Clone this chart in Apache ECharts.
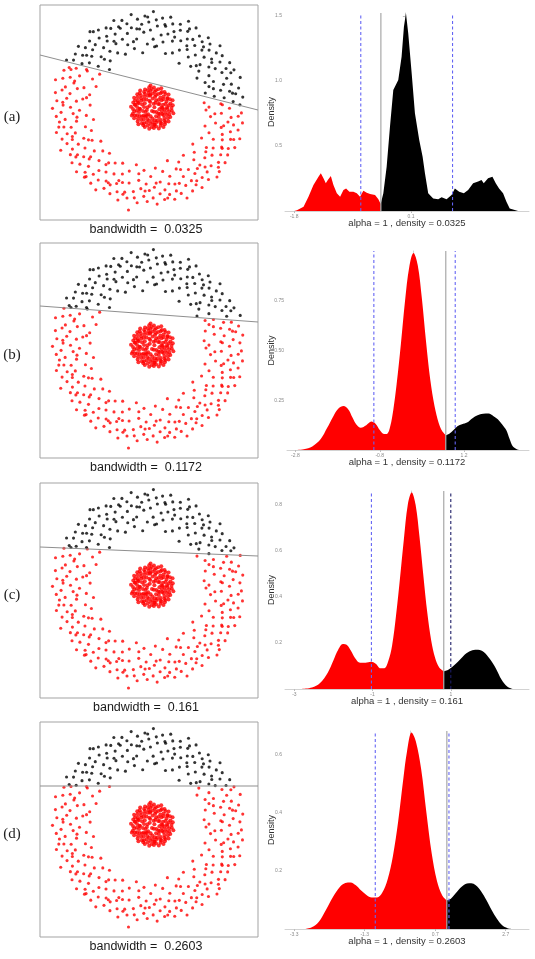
<!DOCTYPE html>
<html><head><meta charset="utf-8">
<script src="https://cdn.jsdelivr.net/npm/echarts@6/dist/echarts.min.js"></script>
<style>html,body{margin:0;padding:0;background:#fff}#c{width:535px;height:959px}</style>
</head><body><div id="c"></div>
<script>
// ---------------- DATA ----------------
const panelLabels = ['(a)', '(b)', '(c)', '(d)'];
const bandwidths = ['0.0325', '0.1172', '0.161', '0.2603'];

// outer ring points [radius, angle(deg)] around ring centre
const ringPts = [
[1.62,0.5],[1.21,1.8],[1.83,2.6],[1.45,4.1],[1.70,5.0],[1.12,6.4],[1.90,7.2],[1.53,8.5],[1.77,9.9],[1.34,11.0],[1.66,12.3],[1.85,13.1],[1.49,14.6],[1.18,15.8],[1.73,16.7],[1.58,18.2],[1.94,19.0],[1.29,20.3],[1.68,21.5],[1.41,22.9],[1.80,23.8],[1.25,25.1],[1.64,26.4],[1.75,27.6],[1.38,28.9],[1.87,29.7],
[1.56,31.2],[1.15,32.5],[1.71,33.3],[1.47,34.8],[1.82,35.9],[1.26,37.0],[1.61,38.4],[1.76,39.6],[1.36,40.7],[1.91,41.5],[1.52,43.0],[1.69,44.2],[1.20,45.3],[1.79,46.6],[1.59,47.8],[1.43,49.1],[1.86,50.0],[1.72,51.4],[1.31,52.6],[1.57,53.9],[1.78,55.1],[1.10,56.2],[1.65,57.5],[1.48,58.8],[1.88,59.6],
[1.60,61.0],[1.33,62.3],[1.74,63.2],[1.51,64.7],[1.93,65.5],[1.22,66.9],[1.70,68.0],[1.81,69.4],[1.44,70.6],[1.63,71.8],[1.16,73.0],[1.77,74.1],[1.55,75.5],[1.89,76.4],[1.37,77.8],[1.72,79.0],[1.50,80.3],[1.84,81.2],[1.27,82.7],[1.67,83.9],[1.79,85.0],[1.40,86.2],[1.95,87.1],[1.58,88.6],[1.74,89.8],
[1.30,91.0],[1.86,92.2],[1.54,93.5],[1.70,94.6],[1.13,95.9],[1.81,97.0],[1.62,98.3],[1.42,99.6],[1.92,100.4],[1.66,101.9],[1.24,103.1],[1.76,104.2],[1.57,105.6],[1.85,106.7],[1.35,107.9],[1.71,109.3],[1.49,110.5],[1.90,111.4],[1.19,112.8],[1.64,114.0],[1.78,115.1],[1.46,116.5],[1.83,117.6],[1.28,118.8],[1.68,119.9],
[1.59,121.3],[1.87,122.4],[1.39,123.7],[1.73,124.8],[1.52,126.2],[1.94,127.1],[1.23,128.5],[1.67,129.6],[1.80,130.9],[1.41,132.2],[1.63,133.3],[1.11,134.7],[1.76,135.8],[1.55,137.1],[1.88,138.2],[1.32,139.6],[1.70,140.8],[1.50,142.0],[1.83,143.1],[1.20,144.5],[1.61,145.7],[1.79,146.9],[1.44,148.2],[1.91,149.1],
[1.66,150.6],[1.27,151.8],[1.74,153.0],[1.53,154.3],[1.86,155.4],[1.14,156.8],[1.69,157.9],[1.58,159.2],[1.82,160.3],[1.36,161.7],[1.95,162.5],[1.48,164.0],[1.72,165.1],[1.21,166.4],[1.77,167.6],[1.60,168.9],[1.89,170.0],[1.33,171.3],[1.65,172.5],[1.45,173.8],[1.84,174.9],[1.17,176.2],[1.71,177.4],[1.56,178.7],[1.92,179.6],
[1.38,181.0],[1.75,182.2],[1.51,183.5],[1.85,184.6],[1.25,185.9],[1.68,187.1],[1.80,188.3],[1.46,189.6],[1.12,190.8],[1.73,192.0],[1.59,193.3],[1.90,194.3],[1.31,195.7],[1.70,196.9],[1.54,198.1],[1.83,199.2],[1.22,200.6],[1.64,201.8],[1.77,203.0],[1.42,204.3],[1.94,205.2],[1.57,206.6],[1.72,207.8],[1.29,209.0],
[1.81,210.3],[1.49,211.5],[1.69,212.8],[1.15,214.0],[1.87,215.1],[1.61,216.4],[1.37,217.7],[1.76,218.8],[1.55,220.1],[1.91,221.1],[1.24,222.5],[1.66,223.7],[1.79,224.9],[1.43,226.2],[1.84,227.3],[1.18,228.6],[1.71,229.8],[1.58,231.1],[1.88,232.1],[1.34,233.5],[1.74,234.7],[1.52,236.0],[1.93,236.9],[1.27,238.3],[1.67,239.5],
[1.82,240.7],[1.47,242.0],[1.70,243.2],[1.20,244.5],[1.86,245.5],[1.62,246.8],[1.40,248.1],[1.77,249.2],[1.56,250.5],[1.92,251.4],[1.30,252.8],[1.73,254.0],[1.53,255.3],[1.83,256.4],[1.14,257.7],[2.06,258.8],[1.68,259.6],[1.80,260.9],[1.44,262.2],[1.89,263.1],[1.60,264.5],[1.23,265.8],[1.75,266.9],[1.50,268.2],[1.85,269.2],
[1.63,270.6],[1.35,271.9],[1.78,273.0],[1.57,274.3],[1.91,275.2],[1.19,276.6],[1.71,277.8],[1.48,279.1],[1.84,280.1],[1.65,281.5],[1.28,282.8],[1.76,283.9],[1.55,285.2],[1.88,286.2],[1.41,287.6],[1.73,288.8],[1.10,290.1],[1.81,291.2],[1.61,292.5],[1.94,293.4],[1.32,294.8],[1.70,296.0],[1.52,297.3],[1.86,298.3],[1.22,299.7],
[1.67,300.9],[1.79,302.1],[1.45,303.4],[1.90,304.3],[1.59,305.7],[1.16,307.0],[1.74,308.1],[1.54,309.4],[1.85,310.4],[1.36,311.8],[1.72,313.0],[1.62,314.3],[1.93,315.2],[1.26,316.6],[1.69,317.8],[1.49,319.1],[1.82,320.2],[1.13,321.6],[1.76,322.7],[1.57,324.0],[1.87,325.0],[1.39,326.4],[1.71,327.6],[1.51,328.9],[1.83,329.9],
[1.21,331.3],[1.65,332.5],[1.78,333.7],[1.43,335.0],[1.89,335.9],[1.60,337.3],[1.30,338.6],[1.75,339.7],[1.56,341.0],[1.92,341.9],[1.18,343.3],[1.70,344.5],[1.50,345.8],[1.84,346.8],[1.37,348.2],[1.73,349.4],[1.61,350.7],[1.90,351.6],[1.25,353.0],[1.66,354.2],[1.80,355.4],[1.46,356.7],[1.86,357.6],[1.15,359.0],
[1.48,3.3],[1.71,10.7],[1.36,17.4],[1.88,24.6],[1.57,36.3],[1.29,42.2],[1.66,48.5],[1.42,57.0],[1.80,62.9],[1.53,70.0],[1.69,78.3],[1.25,84.4],[1.84,90.5],[1.61,96.4],[1.38,102.6],[1.75,110.0],[1.52,117.0],[1.90,125.5],[1.33,131.5],[1.64,139.0],[1.47,147.5],[1.79,152.4],[1.58,160.8],[1.26,169.6],[1.72,175.5],[1.44,186.5],[1.83,191.4],[1.62,199.9],[1.35,207.2],[1.74,213.4],[1.50,219.5],[1.87,226.8],[1.40,232.6],[1.68,241.4],[1.55,247.5],[1.78,253.3],[1.31,261.5],[1.64,267.6],[1.49,275.9],[1.82,282.2],[1.59,289.4],[1.37,297.9],[1.73,303.9],[1.52,312.5],[1.89,318.5],[1.43,323.3],[1.67,331.9],[1.81,340.3],[1.54,347.4],[1.33,355.9]
];

// inner disk points [radius, angle(deg)] around disk centre
const diskPts = [
[0.04,20],[0.09,75],[0.07,140],[0.12,200],[0.06,260],[0.11,315],[0.14,35],[0.13,110],[0.10,170],[0.15,235],[0.08,290],[0.14,350],
[0.18,5],[0.22,17],[0.16,29],[0.24,41],[0.20,53],[0.17,65],[0.23,77],[0.19,89],[0.25,101],[0.16,113],[0.21,125],[0.24,137],[0.18,149],[0.22,161],[0.17,173],[0.25,185],[0.20,197],[0.16,209],[0.23,221],[0.19,233],[0.24,245],[0.17,257],[0.21,269],[0.25,281],[0.18,293],[0.22,305],[0.16,317],[0.23,329],[0.20,341],[0.24,353],
[0.29,3],[0.33,10],[0.27,17],[0.31,25],[0.35,32],[0.28,39],[0.32,46],[0.26,53],[0.34,61],[0.30,68],[0.27,75],[0.33,82],[0.29,89],[0.35,97],[0.31,104],[0.26,111],[0.32,118],[0.28,125],[0.34,133],[0.30,140],[0.27,147],[0.33,154],[0.29,161],[0.35,169],[0.31,176],[0.26,183],[0.32,190],[0.28,197],[0.34,205],[0.30,212],[0.27,219],[0.33,226],[0.29,233],[0.35,241],[0.31,248],[0.26,255],[0.32,262],[0.28,269],[0.34,277],[0.30,284],[0.27,291],[0.33,298],[0.29,305],[0.35,313],[0.31,320],[0.26,327],[0.32,334],[0.28,341],[0.34,349],[0.30,356],
[0.38,1],[0.41,8],[0.37,14],[0.43,21],[0.39,27],[0.36,34],[0.42,40],[0.38,47],[0.40,53],[0.37,60],[0.43,66],[0.39,73],[0.36,79],[0.41,86],[0.38,92],[0.42,99],[0.37,105],[0.40,112],[0.36,118],[0.43,125],[0.39,131],[0.41,138],[0.37,144],[0.42,151],[0.38,157],[0.40,164],[0.36,170],[0.43,177],[0.39,183],[0.37,190],[0.41,196],[0.38,203],[0.42,209],[0.36,216],[0.40,222],[0.43,229],[0.37,235],[0.39,242],[0.41,248],[0.36,255],[0.42,261],[0.38,268],[0.40,274],[0.37,281],[0.43,287],[0.39,294],[0.36,300],[0.41,307],[0.38,313],[0.42,320],[0.37,326],[0.40,333],[0.36,339],[0.43,346],[0.39,352],
[0.12,60],[0.20,0],[0.27,100],[0.31,160],[0.22,230],[0.33,275],[0.19,320],[0.44,200],[0.45,95],[0.44,300]
];

// separating line in each scatter panel (endpoints, ring-centred units)
const splitLines = [
  [[-2.17, 1.08], [2.19, -0.02]],
  [[-2.17, 0.82], [2.19, 0.50]],
  [[-2.17, 0.80], [2.19, 0.62]],
  [[-2.17, 0.80], [2.19, 0.80]]
];

// density curves: red part (left of cut) and black part (right of cut)
const densRedA = [[-1.80,0],[-1.756,0.006],[-1.648,0.033],[-1.568,0.11],[-1.487,0.2],[-1.405,0.264],[-1.367,0.29],[-1.324,0.251],[-1.286,0.213],[-1.253,0.238],[-1.204,0.269],[-1.162,0.2],[-1.107,0.136],[-1.053,0.11],[-0.999,0.162],[-0.956,0.174],[-0.902,0.149],[-0.837,0.149],[-0.782,0.136],[-0.729,0.11],[-0.675,0.156],[-0.62,0.141],[-0.566,0.131],[-0.485,0.123],[-0.431,0.09],[-0.393,0.054]];
const densBlackA = [[-0.393,0.054],[-0.35,0.136],[-0.296,0.341],[-0.242,0.649],[-0.188,0.931],[-0.107,1.008],[-0.053,1.187],[-0.015,1.418],[0.018,1.521],[0.055,1.367],[0.111,1.059],[0.164,0.751],[0.234,0.546],[0.289,0.418],[0.327,0.29],[0.38,0.136],[0.461,0.097],[0.543,0.09],[0.598,0.105],[0.679,0.09],[0.76,0.123],[0.814,0.174],[0.884,0.149],[0.96,0.136],[1.03,0.162],[1.111,0.213],[1.192,0.226],[1.247,0.238],[1.284,0.213],[1.354,0.251],[1.425,0.264],[1.479,0.213],[1.533,0.174],[1.598,0.136],[1.653,0.072],[1.706,0.02],[1.788,0.008],[1.842,0]];

const densRedB = [[-2.85,0],[-2.6,0.004],[-2.4,0.018],[-2.2,0.055],[-2.05,0.11],[-1.9,0.17],[-1.78,0.208],[-1.66,0.221],[-1.55,0.205],[-1.45,0.165],[-1.35,0.127],[-1.25,0.112],[-1.12,0.125],[-1.0,0.143],[-0.9,0.132],[-0.8,0.1],[-0.7,0.08],[-0.62,0.082],[-0.55,0.12],[-0.48,0.2],[-0.4,0.33],[-0.3,0.53],[-0.2,0.75],[-0.1,0.92],[0.0,0.99],[0.1,0.93],[0.2,0.76],[0.3,0.54],[0.4,0.35],[0.5,0.22],[0.6,0.135],[0.68,0.095],[0.766,0.074]];
const densBlackB = [[0.766,0.074],[0.85,0.082],[0.95,0.1],[1.05,0.12],[1.15,0.13],[1.27,0.138],[1.4,0.16],[1.52,0.175],[1.65,0.182],[1.78,0.183],[1.9,0.17],[2.0,0.155],[2.1,0.13],[2.2,0.1],[2.28,0.055],[2.35,0.02],[2.45,0.004],[2.55,0]];

const densRedC = [[-2.8,0],[-2.55,0.006],[-2.35,0.025],[-2.15,0.07],[-2.0,0.125],[-1.88,0.17],[-1.76,0.195],[-1.65,0.19],[-1.55,0.165],[-1.45,0.135],[-1.32,0.114],[-1.18,0.114],[-1.04,0.118],[-0.92,0.11],[-0.8,0.09],[-0.7,0.09],[-0.6,0.12],[-0.5,0.19],[-0.4,0.32],[-0.3,0.48],[-0.2,0.65],[-0.1,0.8],[0.0,0.853],[0.1,0.8],[0.2,0.66],[0.3,0.49],[0.4,0.33],[0.5,0.21],[0.6,0.135],[0.7,0.095],[0.82,0.077]];
const densBlackC = [[0.82,0.077],[0.95,0.085],[1.1,0.105],[1.25,0.13],[1.4,0.155],[1.55,0.168],[1.7,0.171],[1.85,0.16],[2.0,0.13],[2.15,0.09],[2.3,0.04],[2.45,0.01],[2.6,0]];

const densRedD = [[-3.0,0],[-2.8,0.006],[-2.6,0.025],[-2.4,0.065],[-2.2,0.11],[-2.0,0.145],[-1.85,0.158],[-1.7,0.16],[-1.55,0.15],[-1.4,0.132],[-1.25,0.117],[-1.1,0.108],[-0.95,0.108],[-0.8,0.125],[-0.65,0.17],[-0.5,0.25],[-0.35,0.37],[-0.2,0.52],[-0.1,0.61],[0.03,0.675],[0.15,0.645],[0.3,0.55],[0.45,0.4],[0.6,0.26],[0.75,0.165],[0.9,0.115],[1.03,0.098]];
const densBlackD = [[1.03,0.098],[1.15,0.105],[1.3,0.125],[1.45,0.145],[1.6,0.156],[1.72,0.157],[1.85,0.15],[2.0,0.13],[2.15,0.1],[2.3,0.065],[2.45,0.035],[2.6,0.013],[2.75,0.003],[2.92,0]];

const densRed = [densRedA, densRedB, densRedC, densRedD];
const densBlack = [densBlackA, densBlackB, densBlackC, densBlackD];
const densityLabels = ['0.0325', '0.1172', '0.161', '0.2603'];

// vertical reference lines per density panel
const vLines = [[-0.717, -0.39, 0.776], [-0.94, 0.766, 0.99], [-1.03, 0.82, 1.0], [-1.0, 1.03, 1.09]];

// tick labels
const xTicks = [[-1.8, 0.1], [-2.8, -0.8, 1.2], [-3, -1, 1], [-3.3, -1.3, 0.7, 2.7]];
const yTicks = [[0.5, 1.0, 1.5], [0.25, 0.5, 0.75], [0.2, 0.4, 0.6, 0.8], [0.2, 0.4, 0.6]];
const yDecimals = [1, 2, 1, 1];

// ---------------- LAYOUT ----------------
const scatterTops = [5, 243, 483, 722];
const densLayout = [
  {left: 285, top: 13, h: 198, xmin: -1.95, xmax: 2.02, ymax: 1.523},
  {left: 287, top: 251, h: 199, xmin: -3.0, xmax: 2.74, ymax: 1.0},
  {left: 285, top: 491, h: 198, xmin: -3.24, xmax: 3.0, ymax: 0.86},
  {left: 285, top: 731, h: 198, xmin: -3.56, xmax: 3.36, ymax: 0.68}
];
const vLineStyles = [
  ['blue', 'gray', 'blue'], ['blue', 'gray', 'blue'], ['blue', 'gray', 'navy'], ['blue', 'gray', 'blue']
];
const styleMap = {
  blue: {color: '#6464f4', width: 1.1, type: [3, 2.5]},
  navy: {color: '#1c1c66', width: 1.1, type: [3, 2.5]},
  gray: {color: '#a8a8a8', width: 1.2, type: 'solid'}
};

function isAbove(p, line) {
  const a = p[1] * Math.PI / 180;
  const x = p[0] * Math.cos(a), y = p[0] * Math.sin(a);
  const [[x1, y1], [x2, y2]] = line;
  return y > y1 + (y2 - y1) * (x - x1) / (x2 - x1);
}

const grid = [], xAxis = [], yAxis = [], polar = [], angleAxis = [], radiusAxis = [], series = [], graphic = [];
const SANS = '"Liberation Sans", Arial, sans-serif';

for (let r = 0; r < 4; r++) {
  const top = scatterTops[r];
  grid.push({left: 40, top: top, width: 218, height: 215, show: true, borderColor: '#a3a3a3', borderWidth: 1, backgroundColor: 'transparent'});
  let gi = grid.length - 1;
  xAxis.push({gridIndex: gi, type: 'value', min: -2.17, max: 2.19, show: false});
  yAxis.push({gridIndex: gi, type: 'value', min: -2.22, max: 2.08, show: false});
  polar.push({center: [148.5, top + 104], radius: 105});
  let pRing = polar.length - 1;
  angleAxis.push({polarIndex: pRing, type: 'value', min: 0, max: 360, startAngle: 0, clockwise: false, show: false});
  radiusAxis.push({polarIndex: pRing, type: 'value', min: 0, max: 2.1, show: false});
  polar.push({center: [152.5, top + 103], radius: 25});
  let pDisk = polar.length - 1;
  angleAxis.push({polarIndex: pDisk, type: 'value', min: 0, max: 360, startAngle: 0, clockwise: false, show: false});
  radiusAxis.push({polarIndex: pDisk, type: 'value', min: 0, max: 0.5, show: false});

  const blackPts = ringPts.filter(p => isAbove(p, splitLines[r]));
  const redPts = ringPts.filter(p => !isAbove(p, splitLines[r]));
  series.push({type: 'scatter', coordinateSystem: 'polar', polarIndex: pRing, data: redPts, symbolSize: 3.1, itemStyle: {color: '#ff0000'}, silent: true, z: 4});
  series.push({type: 'scatter', coordinateSystem: 'polar', polarIndex: pRing, data: blackPts, symbolSize: 3.1, itemStyle: {color: '#000000'}, silent: true, z: 4});
  series.push({type: 'scatter', coordinateSystem: 'polar', polarIndex: pDisk, data: diskPts, symbolSize: 4, itemStyle: {color: '#ff0000'}, silent: true, z: 4});
  series.push({type: 'line', xAxisIndex: gi, yAxisIndex: gi, data: splitLines[r], symbol: 'none', lineStyle: {color: '#8f8f8f', width: 1}, silent: true, z: 5});

  graphic.push({type: 'text', x: 12, y: top + 112, style: {text: panelLabels[r], font: '15px "Liberation Serif", "DejaVu Serif", serif', fill: '#222', textAlign: 'center', textVerticalAlign: 'middle'}});
  graphic.push({type: 'text', x: 146, y: top + 215 + 9.5, style: {text: 'bandwidth =  ' + bandwidths[r], font: '12.5px ' + SANS, fill: '#1a1a1a', textAlign: 'center', textVerticalAlign: 'middle'}});

  const d = densLayout[r];
  grid.push({left: d.left, top: d.top, width: 529 - d.left, height: d.h, show: false});
  gi = grid.length - 1;
  xAxis.push({gridIndex: gi, type: 'value', min: d.xmin, max: d.xmax,
    axisLine: {show: true, onZero: false, lineStyle: {color: '#d2d2d2', width: 1}},
    axisTick: {show: true, customValues: xTicks[r], length: 2, lineStyle: {color: '#bbbbbb'}},
    axisLabel: {show: true, customValues: xTicks[r], fontSize: 5, color: '#8a8a8a', margin: 3, fontFamily: SANS},
    splitLine: {show: false}});
  const dec = yDecimals[r];
  yAxis.push({gridIndex: gi, type: 'value', min: 0, max: d.ymax,
    axisLine: {show: true, lineStyle: {color: '#d2d2d2', width: 1}},
    axisTick: {show: true, customValues: yTicks[r], length: 2, lineStyle: {color: '#bbbbbb'}},
    axisLabel: {show: true, customValues: yTicks[r], fontSize: 5, color: '#8a8a8a', margin: 3, fontFamily: SANS, formatter: v => v.toFixed(dec)},
    splitLine: {show: false}});
  const sm = r === 0 ? false : 0.35;
  series.push({type: 'line', xAxisIndex: gi, yAxisIndex: gi, data: densRed[r], symbol: 'none', smooth: sm, lineStyle: {width: 0, opacity: 0}, areaStyle: {color: '#ff0000', opacity: 1}, silent: true, z: 2});
  series.push({type: 'line', xAxisIndex: gi, yAxisIndex: gi, data: densBlack[r], symbol: 'none', smooth: sm, lineStyle: {width: 0, opacity: 0}, areaStyle: {color: '#000000', opacity: 1}, silent: true, z: 2});
  vLines[r].forEach((v, k) => {
    const st = styleMap[vLineStyles[r][k]];
    series.push({type: 'line', xAxisIndex: gi, yAxisIndex: gi, data: [[v, 0], [v, d.ymax]], symbol: 'none', lineStyle: st, silent: true, z: 6});
  });
  graphic.push({type: 'text', x: 272, y: d.top + d.h / 2, rotation: Math.PI / 2, style: {text: 'Density', font: '9px ' + SANS, fill: '#333', textAlign: 'center', textVerticalAlign: 'middle'}});
  graphic.push({type: 'text', x: 407, y: d.top + d.h + 12.5, style: {text: 'alpha = 1 , density = ' + densityLabels[r], font: '9.5px ' + SANS, fill: '#333', textAlign: 'center', textVerticalAlign: 'middle'}});
}

const chart = echarts.init(document.getElementById('c'), null, {renderer: 'canvas'});
chart.setOption({
  animation: false,
  backgroundColor: '#ffffff',
  grid, xAxis, yAxis, polar, angleAxis, radiusAxis, series, graphic
});
</script></body></html>
